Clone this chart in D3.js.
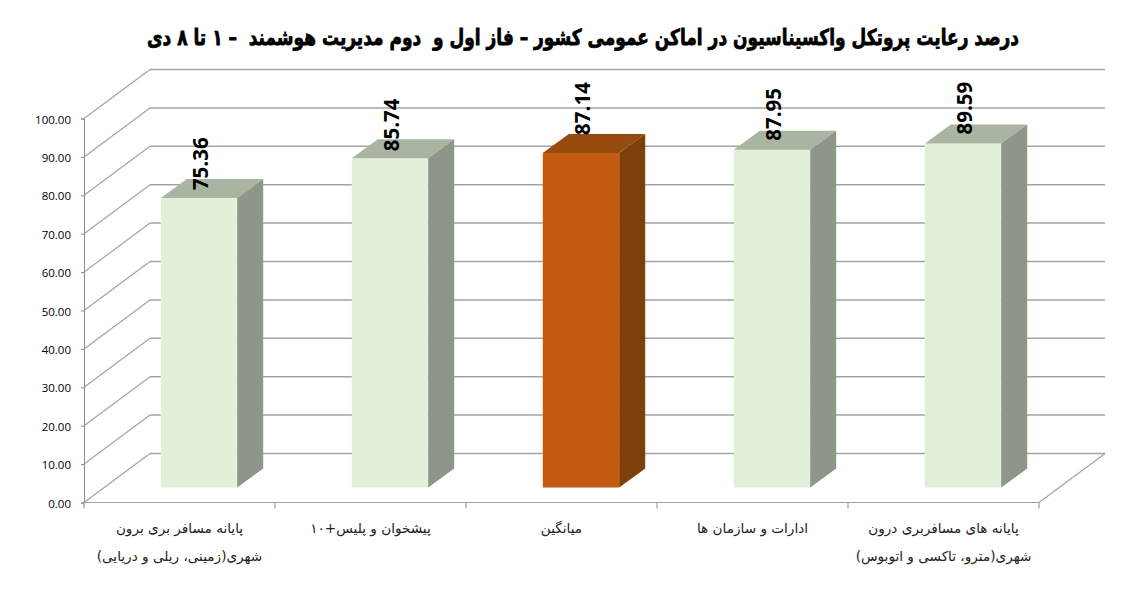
<!DOCTYPE html>
<meta charset="utf-8">
<style>
  body { margin: 0; background: #fff; }
  svg { display: block; }
</style>

<!-- Load d3.js -->
<script src="https://d3js.org/d3.v7.min.js"></script>

<div id="my_dataviz"></div>

<script>
// Chart data
var categories = ["terminal_out", "counter", "average", "offices", "terminal_in"];
var categoryLines = [
  ["پایانه مسافر بری برون", "شهری(زمینی، ریلی و دریایی)"],
  ["پیشخوان و پلیس+۱۰"],
  ["میانگین"],
  ["ادارات و سازمان ها"],
  ["پایانه های مسافربری درون", "شهری(مترو، تاکسی و اتوبوس)"]
];
var values = [75.36, 85.74, 87.14, 87.95, 89.59];
var tickValues = [0, 10, 20, 30, 40, 50, 60, 70, 80, 90, 100];
var titleText = "درصد رعایت پروتکل واکسیناسیون در اماکن عمومی کشور – فاز اول و  دوم مدیریت هوشمند  – ۱ تا ۸ دی";

// Dimensions of the fake 3D box
var width = 1143, height = 603;
var plot = {left: 84, right: 1039, top: 118.5, bottom: 502.5};
var depth = {x: 66, y: -49};      // floor depth, front edge to back wall
var barGap = {x: 20, y: -15};     // front edge of the floor to the bar face
var barDepth = {x: 26, y: -19};   // depth of a bar
var labelLift = [8, 7, 18, 9, 9]; // label distance above the bar face

var svg = d3.select("#my_dataviz")
  .append("svg")
    .attr("width", width)
    .attr("height", height);

var x = d3.scaleBand()
  .domain(categories)
  .range([plot.left, plot.right]);

var y = d3.scaleLinear()
  .domain([0, 100])
  .range([plot.bottom, plot.top]);

var barWidth = x.bandwidth() / 2.5;

// Title, squeezed sideways because the only Arabic font here runs wide
svg.append("text")
  .attr("transform", "translate(583,45) scale(0.85,1.1)")
  .attr("text-anchor", "middle")
  .attr("direction", "rtl")
  .style("white-space", "pre")
  .style("font-family", "'DejaVu Sans', sans-serif")
  .style("font-weight", "bold")
  .style("font-size", "20px")
  .style("fill", "#000")
  .style("stroke", "#000")
  .style("stroke-width", "0.7px")
  .text(titleText);

// Back wall lines and the diagonal lines on the left wall
tickValues.forEach(function(t) {
  svg.append("line")
    .attr("x1", plot.left + depth.x)
    .attr("x2", plot.right + depth.x)
    .attr("y1", y(t) + depth.y)
    .attr("y2", y(t) + depth.y)
    .attr("stroke", "#a3a3a3")
    .attr("stroke-width", 1.5);
  svg.append("line")
    .attr("x1", plot.left)
    .attr("x2", plot.left + depth.x)
    .attr("y1", y(t))
    .attr("y2", y(t) + depth.y)
    .attr("stroke", "#a3a3a3")
    .attr("stroke-width", 1.2);
});

// Floor edge on the right
svg.append("line")
  .attr("x1", plot.right)
  .attr("x2", plot.right + depth.x)
  .attr("y1", y(0))
  .attr("y2", y(0) + depth.y)
  .attr("stroke", "#a3a3a3")
  .attr("stroke-width", 1.2);

// Y axis
var yAxis = svg.append("g")
  .attr("transform", "translate(" + plot.left + ",0)")
  .call(d3.axisLeft(y).tickValues(tickValues).tickFormat(d3.format(".2f")).tickSize(3).tickPadding(10));
yAxis.selectAll("path, line").attr("stroke", "#8c8c8c");
yAxis.selectAll("text")
  .attr("dy", "0.4em")
  .style("font-family", "'Open Sans', sans-serif")
  .style("font-size", "11.5px")
  .style("fill", "#000");

// X axis line with ticks on the band edges
svg.append("line")
  .attr("x1", plot.left)
  .attr("x2", plot.right)
  .attr("y1", y(0))
  .attr("y2", y(0))
  .attr("stroke", "#a3a3a3")
  .attr("stroke-width", 1.2);
categories.concat([null]).forEach(function(c) {
  var tx = c === null ? plot.right : x(c);
  svg.append("line")
    .attr("x1", tx)
    .attr("x2", tx)
    .attr("y1", y(0))
    .attr("y2", y(0) + 6)
    .attr("stroke", "#8c8c8c");
});

// Bars: front, top and side faces
function barColors(c) {
  return c === "average"
    ? {front: "#c55a11", side: "#7f3f0b", top: "#964a0e"}
    : {front: "#e2efd9", side: "#8d9689", top: "#a9b5a1"};
}

var bars = svg.selectAll("g.bar")
  .data(values)
  .enter()
  .append("g")
    .attr("class", "bar");

bars.each(function(d, i) {
  var g = d3.select(this);
  var colors = barColors(categories[i]);
  var x0 = x(categories[i]) + x.bandwidth() / 2 - barWidth / 2 + 19.5;
  var x1 = x0 + barWidth;
  var yBase = y(0) + barGap.y;
  var yTop = yBase - (y(0) - y(d));

  g.append("rect")
    .attr("x", x0)
    .attr("y", yTop)
    .attr("width", barWidth)
    .attr("height", yBase - yTop)
    .attr("fill", colors.front);

  g.append("path")
    .attr("d", d3.line()([[x0, yTop], [x0 + barDepth.x, yTop + barDepth.y],
      [x1 + barDepth.x, yTop + barDepth.y], [x1, yTop]]) + "Z")
    .attr("fill", colors.top);

  g.append("path")
    .attr("d", d3.line()([[x1, yTop], [x1 + barDepth.x, yTop + barDepth.y],
      [x1 + barDepth.x, yBase + barDepth.y], [x1, yBase]]) + "Z")
    .attr("fill", colors.side);
});

// Value labels, rotated
bars.append("text")
  .attr("transform", function(d, i) {
    var cx = x(categories[i]) + x.bandwidth() / 2 + 21;
    var ty = y(0) + barGap.y - (y(0) - y(d)) - labelLift[i];
    return "translate(" + cx + "," + ty + ") rotate(-90)";
  })
  .attr("dy", ".35em")
  .style("font-family", "'Open Sans', sans-serif")
  .style("font-weight", "700")
  .style("font-size", "20.5px")
  .style("fill", "#000")
  .text(function(d) { return d3.format(".2f")(d); });

// Category labels
categoryLines.forEach(function(lines, i) {
  lines.forEach(function(line, j) {
    svg.append("text")
      .attr("x", x(categories[i]) + x.bandwidth() / 2)
      .attr("y", 533 + j * 27.5)
      .attr("text-anchor", "middle")
      .attr("direction", "rtl")
      .style("font-family", "'DejaVu Sans', sans-serif")
      .style("font-size", "13.6px")
      .style("fill", "#222")
      .text(line);
  });
});
</script>
